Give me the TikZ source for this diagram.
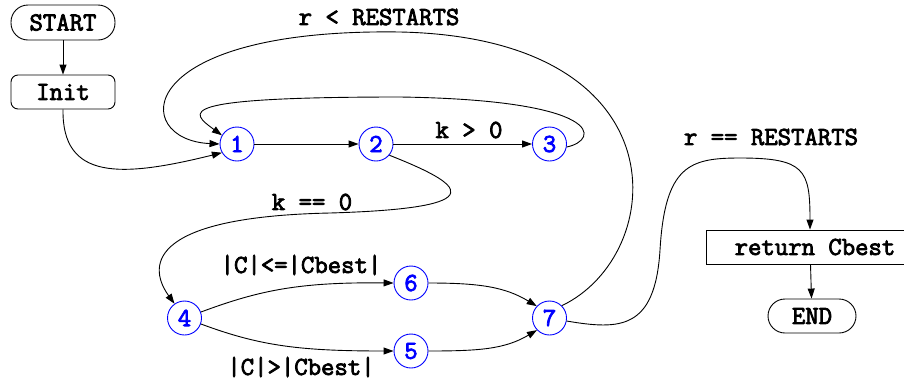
\documentclass[tikz,border=0pt]{standalone}
\usepackage{fontspec}
\newfontfamily\typebold{Latin Modern Mono}[FakeBold=3]
\usetikzlibrary{arrows.meta}
\begin{document}
\begin{tikzpicture}[x=1pt, y=-1pt,
  font=\typebold\fontsize{26}{30}\selectfont,
  every path/.style={line width=0.9pt},
  arr/.style={-{Triangle[length=10pt,width=7pt]}},
  terminal/.style={draw, rounded corners=17pt, minimum width=104pt, minimum height=35pt, inner sep=0pt},
  action/.style={draw, rounded corners=7pt, minimum width=104pt, minimum height=34pt, inner sep=0pt},
  plainbox/.style={draw, minimum width=208pt, minimum height=34pt, inner sep=0pt},
  state/.style={circle, draw=blue, text=blue, minimum size=34pt, inner sep=0pt},
  lbl/.style={inner sep=0pt}]
\useasboundingbox (0,0) rectangle (904,381);

% terminals and actions
\node[terminal] (start) at (63,22.5) {START};
\node[action]   (init)  at (63,92)   {Init};
\node[plainbox] (ret)   at (810,247) {\hspace*{10pt}return Cbest};
\node[terminal, minimum width=88pt, minimum height=34pt] (end) at (812,316) {END};

% states
\node[state] (s1) at (237,144)   {1};
\node[state] (s2) at (376,144)   {2};
\node[state] (s3) at (549.5,144) {3};
\node[state] (s4) at (184.5,318) {4};
\node[state] (s6) at (411,283)   {6};
\node[state] (s5) at (411,351)   {5};
\node[state] (s7) at (549.5,318) {7};

% guards
\node[lbl] (lrst)  at (379,17)  {r < RESTARTS};
\node[lbl] (lkgt)  at (469,130) {k > 0};
\node[lbl] (lkeq)  at (312,202) {k == 0};
\node[lbl] (lle)   at (301,265) {|C|<=|Cbest|};
\node[lbl] (lgt)   at (301,367) {|C|>|Cbest|};
\node[lbl] (lreq)  at (771,137) {r == RESTARTS};

% transitions
\draw[arr] (start) -- (init);
\draw[arr] (init.south) .. controls (62,180) and (120,178) .. (s1.210);
\draw[arr] (s1) -- (s2);
\draw[arr] (s2) -- (s3);
\draw[arr] (s3.-10) .. controls (600,140) and (605,100) .. (400,97)
                    .. controls (170,97) and (190,112) .. (s1.150);
\draw[arr] (s7.45) .. controls (668,255) and (685,38) .. (400,32)
                   .. controls (130,28) and (130,140) .. (s1.west);
\draw[arr] (s2.-40) .. controls (462,184) and (500,208) .. (330,213)
                    .. controls (140,217) and (150,270) .. (s4.125);
\draw[arr] (s4.20) .. controls (260,290) and (300,282) .. (s6.west);
\draw[arr] (s4.-20) .. controls (260,346) and (300,351) .. (s5.west);
\draw[arr] (s6.east) .. controls (480,283) and (505,287) .. (s7.137);
\draw[arr] (s5.east) .. controls (480,351) and (505,349) .. (s7.224);
\draw[arr] (s7.-10) .. controls (620,330) and (655,330) .. (660,250)
                    .. controls (665,165) and (690,158) .. (740,158)
                    .. controls (805,158) and (810,170) .. (ret.north);
\draw[arr] (ret) -- (end);
\end{tikzpicture}
\end{document}
